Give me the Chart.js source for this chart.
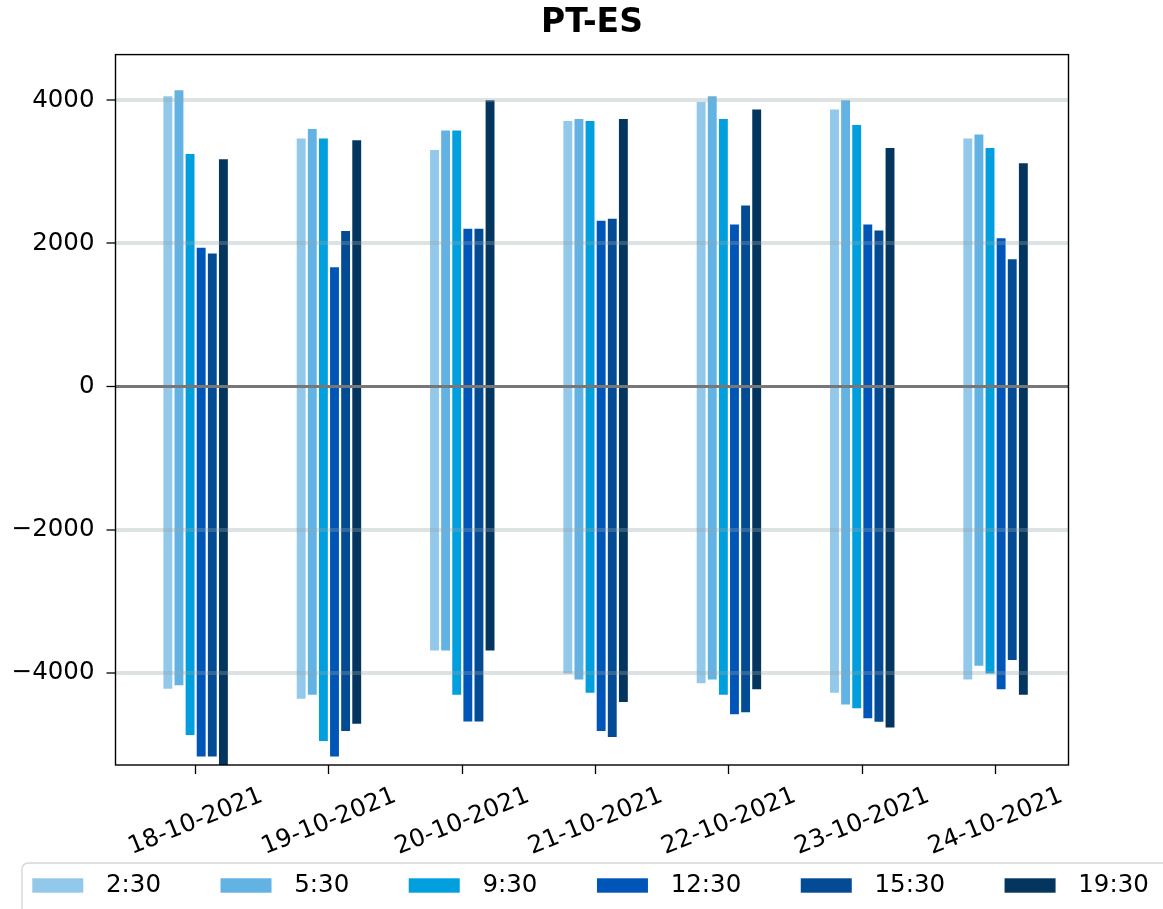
<!DOCTYPE html>
<html>
<head>
<meta charset="utf-8">
<script src="https://cdn.jsdelivr.net/npm/chart.js@4/dist/chart.umd.min.js"></script>
<style>
html,body{margin:0;padding:0;background:#fff;}
#wrap{width:1163px;height:909px;position:relative;}
</style>
</head>
<body>
<div id="wrap"><canvas id="c"></canvas></div>
<script>
const dates = ['18-10-2021','19-10-2021','20-10-2021','21-10-2021','22-10-2021','23-10-2021','24-10-2021'];
const series = ['2:30','5:30','9:30','12:30','15:30','19:30'];
const colors = ['#92c9ea','#62b3e4','#019fde','#0055b8','#034b95','#03355f'];

const pos0230 = [4057, 3466, 3308, 3712, 3978, 3871, 3466];
const pos0530 = [4141, 3601, 3578, 3740, 4057, 4001, 3522];
const pos0930 = [3251, 3466, 3578, 3712, 3740, 3657, 3335];
const pos1230 = [1939, 1669, 2204, 2316, 2265, 2265, 2074];
const pos1530 = [1860, 2176, 2204, 2344, 2530, 2181, 1781];
const pos1930 = [3177, 3443, 4001, 3740, 3871, 3335, 3121];

const neg0230 = [-4225, -4365, -3690, -4011, -4146, -4281, -4095];
const neg0530 = [-4174, -4309, -3690, -4095, -4095, -4444, -3904];
const neg0930 = [-4872, -4956, -4309, -4281, -4309, -4495, -4011];
const neg1230 = [-5170, -5170, -4681, -4816, -4579, -4635, -4230];
const neg1530 = [-5170, -4816, -4681, -4900, -4551, -4686, -3824];
const neg1930 = [-5350, -4714, -3690, -4411, -4230, -4766, -4309];

const yTicks = [-4000, -2000, 0, 2000, 4000];

const posSeries = [pos0230, pos0530, pos0930, pos1230, pos1530, pos1930];
const negSeries = [neg0230, neg0530, neg0930, neg1230, neg1530, neg1930];

const datasets = [];
series.forEach((s, i) => {
  datasets.push({label: s, stack: s, backgroundColor: colors[i],
    data: posSeries[i].map((v, j) => ({x: j, y: v}))});
  datasets.push({label: s, stack: s, backgroundColor: colors[i],
    data: negSeries[i].map((v, j) => ({x: j, y: v}))});
});

const FONT = 'DejaVu Sans';

const framePlugin = {
  id: 'frameAndLegend',
  afterDraw(chart) {
    const ctx = chart.ctx;
    const a = chart.chartArea;
    ctx.save();
    ctx.strokeStyle = '#000';
    ctx.lineWidth = 1.4;
    ctx.strokeRect(a.left, a.top, a.right - a.left, a.bottom - a.top);

    // legend box
    ctx.beginPath();
    if (ctx.roundRect) ctx.roundRect(22, 863, 1200, 120, 6); else ctx.rect(22, 863, 1200, 120);
    ctx.fillStyle = 'rgba(255,255,255,0.8)';
    ctx.fill();
    ctx.strokeStyle = '#d6d6d6';
    ctx.lineWidth = 1.4;
    ctx.stroke();

    ctx.font = '24.5px "' + FONT + '"';
    ctx.textBaseline = 'middle';
    ctx.textAlign = 'left';
    let x = 32.3;
    const cy = 885.5;
    series.forEach((s, i) => {
      ctx.fillStyle = colors[i];
      ctx.fillRect(x, cy - 7.2, 51, 14.4);
      ctx.fillStyle = '#000';
      const tx = x + 51 + 22.7;
      ctx.fillText(s, tx, cy);
      x = tx + ctx.measureText(s).width + 59.5;
    });
    ctx.restore();
  }
};

new Chart(document.getElementById('c'), {
  type: 'bar',
  data: {datasets},
  plugins: [framePlugin],
  options: {
    responsive: true,
    maintainAspectRatio: false,
    animation: false,
    datasets: {bar: {barPercentage: 0.8, categoryPercentage: 0.5, borderWidth: 0}},
    layout: {padding: {left: 0, right: 94.5, top: 0, bottom: 0}},
    plugins: {
      legend: {display: false},
      tooltip: {enabled: false},
      title: {
        display: true, text: 'PT-ES', fullSize: false, color: '#000',
        font: {family: FONT, size: 33, weight: 'bold'},
        padding: {top: 4, bottom: 11}
      }
    },
    scales: {
      x: {
        type: 'linear', min: -0.601, max: 6.547, offset: false,
        grid: {offset: false, drawOnChartArea: false, drawTicks: true, tickLength: 9, tickColor: '#000', tickWidth: 1.3},
        border: {display: false},
        ticks: {
          stepSize: 1, includeBounds: false, autoSkip: false,
          minRotation: 22, maxRotation: 22, labelOffset: 66, padding: 7.5,
          color: '#000', font: {family: FONT, size: 24.5},
          callback: (v) => (dates[v] !== undefined ? dates[v] : '')
        },
        afterFit: (s) => { s.height = 144; }
      },
      y: {
        min: -5290, max: 4640,
        grid: {
          z: 1,
          color: (c) => (c.tick && c.tick.value === 0 ? '#777777' : 'rgba(149,165,166,0.32)'),
          lineWidth: (c) => (c.tick && c.tick.value === 0 ? 3 : 4),
          tickColor: '#000', tickLength: 9, tickWidth: 1.3, drawTicks: true
        },
        border: {display: false},
        afterBuildTicks: (s) => { s.ticks = yTicks.map(v => ({value: v})); },
        ticks: {
          padding: 12, color: '#000', font: {family: FONT, size: 24.5},
          callback: (v) => (v < 0 ? '\u2212' + Math.abs(v) : String(v))
        },
        afterFit: (s) => { s.width = 115.5; }
      }
    }
  }
});
</script>
</body>
</html>
